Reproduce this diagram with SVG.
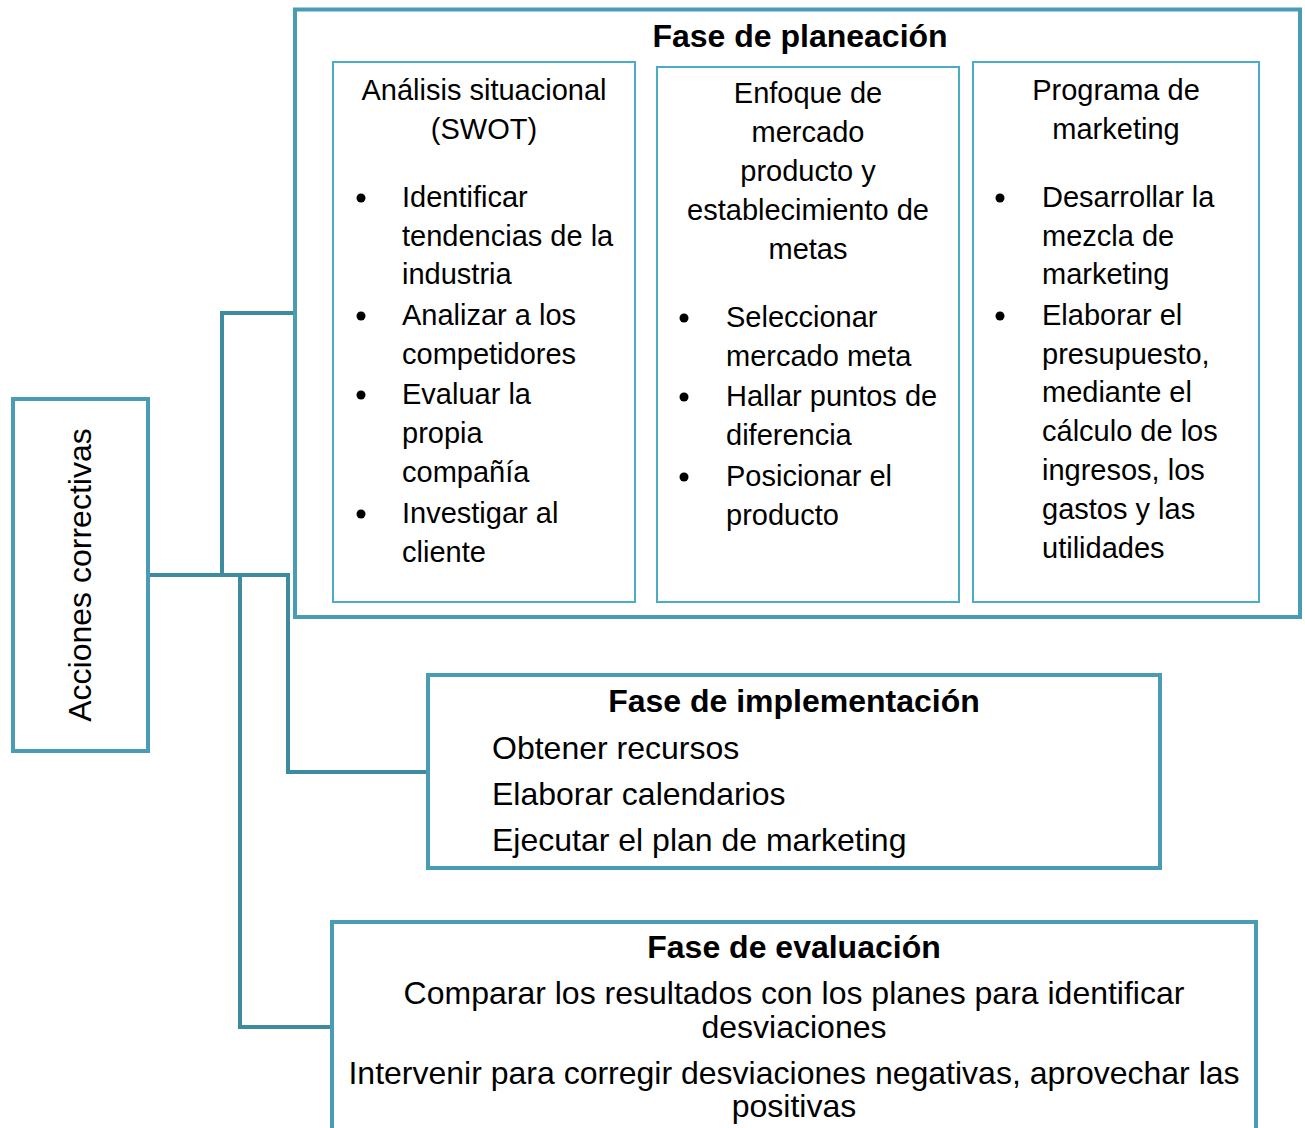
<svg xmlns="http://www.w3.org/2000/svg" width="1305" height="1128" viewBox="0 0 1305 1128">
<style>
  .box { fill: #ffffff; stroke: #4a9cb5; stroke-width: 4; }
  .inner { fill: #ffffff; stroke: #4bacc6; stroke-width: 2; }
  .conn { fill: none; stroke: #3e8a9f; stroke-width: 4; stroke-linejoin: miter; }
  text { font-family: "Liberation Sans", Arial, sans-serif; fill: #000000; }
  .t32 { font-size: 32px; }
  .b32 { font-size: 32px; font-weight: bold; }
  .t29 { font-size: 29px; }
  .c { text-anchor: middle; }
  .bul { fill: #000000; }
</style>
<rect width="1305" height="1128" fill="#ffffff"/>

<g id="connectors">
  <polyline class="conn" points="148,575 288,575 288,772 428,772"/>
  <polyline class="conn" points="222,575 222,313 295,313"/>
  <polyline class="conn" points="240,575 240,1027 332,1027"/>
</g>

<g id="acciones-correctivas">
  <rect class="box" x="13" y="399" width="135" height="352"/>
  <text class="t32 c" transform="translate(91,575) rotate(-90)">Acciones correctivas</text>
</g>

<g id="fase-planeacion">
  <rect class="box" x="295" y="9.5" width="1005" height="607.5"/>
  <text class="b32 c" x="800" y="47">Fase de planeación</text>

  <g id="analisis-situacional">
    <rect class="inner" x="333" y="62" width="302" height="540"/>
    <text class="t29 c" x="484" y="100">Análisis situacional</text>
    <text class="t29 c" x="484" y="139">(SWOT)</text>
    <circle class="bul" cx="361" cy="198" r="4.5"/>
    <text class="t29" x="402" y="207">Identificar</text>
    <text class="t29" x="402" y="246">tendencias de la</text>
    <text class="t29" x="402" y="284">industria</text>
    <circle class="bul" cx="361" cy="316" r="4.5"/>
    <text class="t29" x="402" y="325">Analizar a los</text>
    <text class="t29" x="402" y="364">competidores</text>
    <circle class="bul" cx="361" cy="395" r="4.5"/>
    <text class="t29" x="402" y="404">Evaluar la</text>
    <text class="t29" x="402" y="443">propia</text>
    <text class="t29" x="402" y="482">compañía</text>
    <circle class="bul" cx="361" cy="514" r="4.5"/>
    <text class="t29" x="402" y="523">Investigar al</text>
    <text class="t29" x="402" y="562">cliente</text>
  </g>

  <g id="enfoque-mercado">
    <rect class="inner" x="657" y="67" width="302" height="535"/>
    <text class="t29 c" x="808" y="103">Enfoque de</text>
    <text class="t29 c" x="808" y="142">mercado</text>
    <text class="t29 c" x="808" y="181">producto y</text>
    <text class="t29 c" x="808" y="220">establecimiento de</text>
    <text class="t29 c" x="808" y="259">metas</text>
    <circle class="bul" cx="684" cy="318" r="4.5"/>
    <text class="t29" x="726" y="327">Seleccionar</text>
    <text class="t29" x="726" y="366">mercado meta</text>
    <circle class="bul" cx="684" cy="397" r="4.5"/>
    <text class="t29" x="726" y="406">Hallar puntos de</text>
    <text class="t29" x="726" y="445">diferencia</text>
    <circle class="bul" cx="684" cy="477" r="4.5"/>
    <text class="t29" x="726" y="486">Posicionar el</text>
    <text class="t29" x="726" y="525">producto</text>
  </g>

  <g id="programa-marketing">
    <rect class="inner" x="973" y="62" width="286" height="540"/>
    <text class="t29 c" x="1116" y="100">Programa de</text>
    <text class="t29 c" x="1116" y="139">marketing</text>
    <circle class="bul" cx="1000" cy="198" r="4.5"/>
    <text class="t29" x="1042" y="207">Desarrollar la</text>
    <text class="t29" x="1042" y="246">mezcla de</text>
    <text class="t29" x="1042" y="284">marketing</text>
    <circle class="bul" cx="1000" cy="316" r="4.5"/>
    <text class="t29" x="1042" y="325">Elaborar el</text>
    <text class="t29" x="1042" y="364">presupuesto,</text>
    <text class="t29" x="1042" y="402">mediante el</text>
    <text class="t29" x="1042" y="441">cálculo de los</text>
    <text class="t29" x="1042" y="480">ingresos, los</text>
    <text class="t29" x="1042" y="519">gastos y las</text>
    <text class="t29" x="1042" y="558">utilidades</text>
  </g>
</g>

<g id="fase-implementacion">
  <rect class="box" x="428" y="675" width="732" height="193"/>
  <text class="b32 c" x="794" y="712">Fase de implementación</text>
  <text class="t32" x="492" y="759">Obtener recursos</text>
  <text class="t32" x="492" y="805">Elaborar calendarios</text>
  <text class="t32" x="492" y="851">Ejecutar el plan de marketing</text>
</g>

<g id="fase-evaluacion">
  <rect class="box" x="332" y="922" width="924" height="240"/>
  <text class="b32 c" x="794" y="958">Fase de evaluación</text>
  <text class="t32 c" x="794" y="1004">Comparar los resultados con los planes para identificar</text>
  <text class="t32 c" x="794" y="1038">desviaciones</text>
  <text class="t32 c" x="794" y="1084">Intervenir para corregir desviaciones negativas, aprovechar las</text>
  <text class="t32 c" x="794" y="1117">positivas</text>
</g>
</svg>
